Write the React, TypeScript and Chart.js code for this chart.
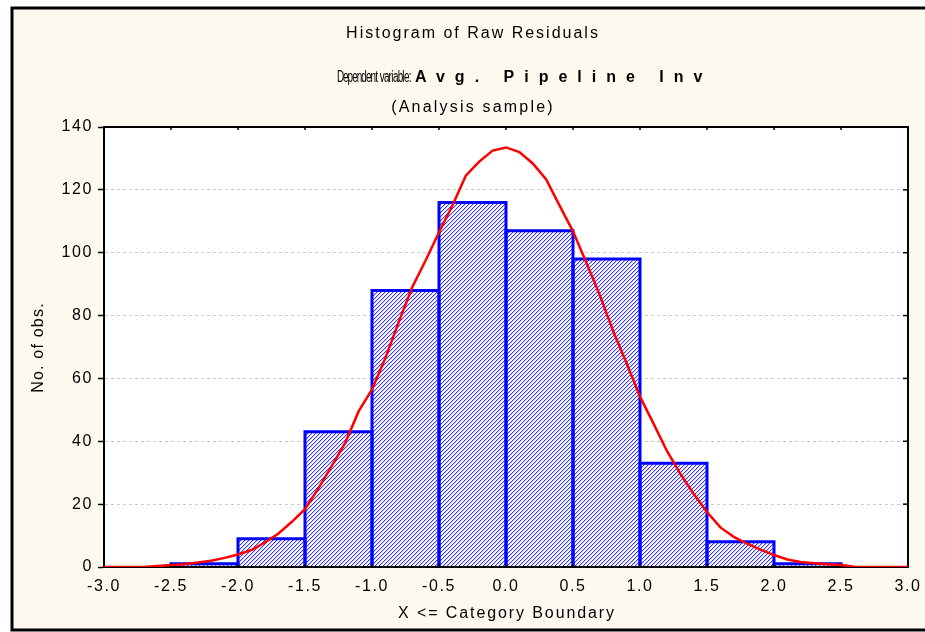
import React, { useEffect, useRef } from 'react';
import { Chart, registerables } from 'chart.js';

Chart.register(...registerables);

// ---- data ----
const binCenters = [-2.25, -1.75, -1.25, -0.75, -0.25, 0.25, 0.75, 1.25, 1.75, 2.25];
const binCounts = [1, 9, 43, 88, 116, 107, 98, 33, 8, 1];

const curveX = [
  -3.0, -2.9, -2.8, -2.7, -2.6, -2.5, -2.4, -2.3, -2.2, -2.1,
  -2.0, -1.9, -1.8, -1.7, -1.6, -1.5, -1.4, -1.3, -1.2, -1.1,
  -1.0, -0.9, -0.8, -0.7, -0.6, -0.5, -0.4, -0.3, -0.2, -0.1,
  0.0, 0.1, 0.2, 0.3, 0.4, 0.5, 0.6, 0.7, 0.8, 0.9,
  1.0, 1.1, 1.2, 1.3, 1.4, 1.5, 1.6, 1.7, 1.8, 1.9,
  2.0, 2.1, 2.2, 2.3, 2.4, 2.5, 2.6, 2.7, 2.8, 2.9, 3.0,
];
const curveY = [
  0, 0, 0, 0, 0.3, 0.6, 0.9, 1.4, 2.0, 2.9,
  4.0, 5.4, 7.8, 10.6, 14.3, 18.4, 25.0, 32.2, 39.5, 49.5,
  56.5, 66.5, 78.0, 89.0, 97.5, 106.5, 115.0, 124.5, 129.0, 132.5,
  133.5, 132.0, 128.4, 123.3, 115.0, 106.8, 96.8, 86.5, 75.0, 64.8,
  54.2, 45.7, 37.0, 29.7, 23.3, 17.5, 12.6, 9.6, 7.4, 5.5,
  3.8, 2.4, 1.6, 1.2, 0.9, 0.6, 0.1, 0, 0, 0, 0,
];

const xMin = -3;
const xMax = 3;
const xStep = 0.5;
const yMin = 0;
const yMax = 140;
const yStep = 20;

const titleText = 'Histogram of Raw Residuals';
const depLabel = 'Dependent variable:';
const depValue = 'Avg. Pipeline Inv';
const sampleText = '(Analysis sample)';
const xTitle = 'X <= Category Boundary';
const yTitle = 'No. of obs.';

// ---- styles ----
const FONT = '"Liberation Sans", Arial, sans-serif';
const CREAM = 'rgb(253,249,239)';

function makeHatch(): CanvasPattern | string {
  const c = document.createElement('canvas');
  c.width = 4;
  c.height = 4;
  const g = c.getContext('2d');
  if (!g) return '#a8a8f5';
  const img = g.createImageData(4, 4);
  for (let y = 0; y < 4; y++) {
    for (let x = 0; x < 4; x++) {
      const k = (x + y) % 4;
      const i = (y * 4 + x) * 4;
      let col = [255, 255, 255];
      if (k === 0) col = [50, 50, 255];
      else if (k === 1) col = [200, 200, 255];
      img.data[i] = col[0];
      img.data[i + 1] = col[1];
      img.data[i + 2] = col[2];
      img.data[i + 3] = 255;
    }
  }
  g.putImageData(img, 0, 0);
  const p = g.createPattern(c, 'repeat');
  return p || '#a8a8f5';
}

function drawText(
  ctx: CanvasRenderingContext2D,
  text: string,
  x: number,
  y: number,
  font: string,
  spacing: number,
  align: CanvasTextAlign,
) {
  ctx.save();
  ctx.font = font;
  (ctx as any).letterSpacing = spacing + 'px';
  ctx.textAlign = align;
  ctx.textBaseline = 'alphabetic';
  ctx.fillStyle = '#000';
  ctx.fillText(text, x, y);
  ctx.restore();
}

// condensed label: glyphs narrowed, advances squeezed to a target width
function drawCondensed(
  ctx: CanvasRenderingContext2D,
  text: string,
  x: number,
  y: number,
  font: string,
  targetWidth: number,
  glyphScale: number,
) {
  ctx.save();
  ctx.font = font;
  (ctx as any).letterSpacing = '0px';
  ctx.fillStyle = '#000';
  ctx.textAlign = 'left';
  ctx.textBaseline = 'alphabetic';
  const total = ctx.measureText(text).width;
  const k = targetWidth / total;
  let cx = x;
  for (const ch of text) {
    const adv = ctx.measureText(ch).width;
    ctx.save();
    ctx.translate(cx, y);
    ctx.scale(glyphScale, 1);
    ctx.fillText(ch, 0, 0);
    ctx.restore();
    cx += adv * k;
  }
  ctx.restore();
}

const decorPlugin = {
  id: 'decor',
  beforeUpdate(chart: any) {
    (chart.ctx as any).letterSpacing = '1.6px';
  },
  beforeDraw(chart: any) {
    const ctx: CanvasRenderingContext2D = chart.ctx;
    const { width, height } = chart;
    const a = chart.chartArea;
    ctx.save();
    (ctx as any).letterSpacing = '0px';
    ctx.fillStyle = '#ffffff';
    ctx.fillRect(0, 0, width, height);
    ctx.fillStyle = CREAM;
    ctx.fillRect(12, 8, width - 12, 622);
    ctx.fillStyle = '#ffffff';
    ctx.fillRect(a.left, a.top, a.right - a.left, a.bottom - a.top);
    ctx.strokeStyle = '#000';
    ctx.lineWidth = 3;
    ctx.beginPath();
    ctx.moveTo(width + 2, 8);
    ctx.lineTo(12, 8);
    ctx.lineTo(12, 630);
    ctx.lineTo(width + 2, 630);
    ctx.stroke();
    ctx.restore();
    (ctx as any).letterSpacing = '1.6px';
  },
  afterDatasetDraw(chart: any, args: any) {
    if (args.meta.type !== 'bar') return;
    const ctx: CanvasRenderingContext2D = chart.ctx;
    const a = chart.chartArea;
    ctx.save();
    ctx.strokeStyle = '#0000ff';
    ctx.lineWidth = 3;
    ctx.lineJoin = 'miter';
    args.meta.data.forEach((el: any) => {
      const p = el.getProps(['x', 'y', 'base', 'width'], true);
      const l = p.x - p.width / 2;
      const r = p.x + p.width / 2;
      ctx.beginPath();
      ctx.moveTo(l, p.base);
      ctx.lineTo(l, p.y);
      ctx.lineTo(r, p.y);
      ctx.lineTo(r, p.base);
      ctx.stroke();
    });
    // plot frame
    ctx.strokeStyle = '#000';
    ctx.lineWidth = 2;
    ctx.strokeRect(a.left, a.top, a.right - a.left, a.bottom - a.top);
    // inner tick marks: right side (y) and top/bottom (x)
    ctx.lineWidth = 1.5;
    const ys = chart.scales.y;
    ys.ticks.forEach((t: any) => {
      const py = ys.getPixelForValue(t.value);
      ctx.beginPath();
      ctx.moveTo(a.right, py);
      ctx.lineTo(a.right - 5, py);
      ctx.stroke();
    });
    const xs = chart.scales.x;
    xs.ticks.forEach((t: any) => {
      const px = xs.getPixelForValue(t.value);
      ctx.beginPath();
      ctx.moveTo(px, a.top);
      ctx.lineTo(px, a.top + 3);
      ctx.moveTo(px, a.bottom);
      ctx.lineTo(px, a.bottom - 3);
      ctx.stroke();
    });
    ctx.restore();
  },
  afterDraw(chart: any) {
    const ctx: CanvasRenderingContext2D = chart.ctx;
    drawText(ctx, titleText, 473, 37.5, `16px ${FONT}`, 2, 'center');
    drawText(ctx, sampleText, 473, 111.5, `16px ${FONT}`, 2.2, 'center');

    // "Dependent variable:" (condensed) + bold spaced name
    drawCondensed(ctx, depLabel, 337, 81.5, `16px ${FONT}`, 74, 0.62);
    drawText(ctx, depValue, 415, 81.5, `bold 16px ${FONT}`, 10, 'left');

    drawText(ctx, xTitle, 507, 618, `16px ${FONT}`, 1.9, 'center');

    ctx.save();
    ctx.translate(39, 347.5);
    ctx.rotate(-Math.PI / 2);
    ctx.font = `16px ${FONT}`;
    (ctx as any).letterSpacing = '1.2px';
    ctx.textAlign = 'center';
    ctx.textBaseline = 'middle';
    ctx.fillStyle = '#000';
    ctx.fillText(yTitle, 0, 0);
    ctx.restore();
    (ctx as any).letterSpacing = '1.6px';
  },
};

export default function App() {
  const ref = useRef<HTMLCanvasElement | null>(null);

  useEffect(() => {
    const canvas = ref.current;
    if (!canvas) return;
    const hatch = makeHatch();
    const chart = new Chart(canvas, {
      type: 'bar',
      data: {
        datasets: [
          {
            type: 'line',
            data: curveX.map((x, i) => ({ x, y: curveY[i] })),
            borderColor: '#ff0000',
            borderWidth: 2.5,
            pointRadius: 0,
            tension: 0,
            fill: false,
            order: 1,
          } as any,
          {
            type: 'bar',
            data: binCenters.map((x, i) => ({ x, y: binCounts[i] })),
            backgroundColor: hatch,
            borderWidth: 0,
            barPercentage: 1,
            categoryPercentage: 1,
            order: 2,
          } as any,
        ],
      },
      options: {
        responsive: false,
        animation: false,
        devicePixelRatio: 1,
        layout: { padding: { left: 0, right: 17, top: 127, bottom: 0 } },
        plugins: {
          legend: { display: false },
          tooltip: { enabled: false },
          title: { display: false },
        },
        scales: {
          x: {
            type: 'linear',
            min: xMin,
            max: xMax,
            offset: false,
            grid: { display: false, drawTicks: false, offset: false },
            border: { display: true, color: '#000', width: 2 },
            ticks: {
              stepSize: xStep,
              padding: 10,
              color: '#000',
              font: { family: FONT, size: 16 },
              maxRotation: 0,
              autoSkip: false,
              includeBounds: true,
              callback: (v: any) => Number(v).toFixed(1),
            },
            afterFit(s: any) {
              s.height = 65;
              s.paddingLeft = 0;
              s.paddingRight = 0;
            },
          },
          y: {
            type: 'linear',
            min: yMin,
            max: yMax,
            grid: {
              color: '#c8c8c8',
              lineWidth: 1,
              tickLength: 6,
              tickColor: '#000',
              tickWidth: 1.5,
              tickBorderDash: [],
            },
            border: { display: true, color: '#000', width: 2, dash: [3, 3] },
            ticks: {
              stepSize: yStep,
              padding: 5,
              color: '#000',
              font: { family: FONT, size: 16 },
            },
            afterFit(s: any) {
              s.width = 104;
              s.paddingTop = 0;
              s.paddingBottom = 0;
            },
          },
        } as any,
      },
      plugins: [decorPlugin as any],
    });
    return () => chart.destroy();
  }, []);

  return (
    <div style={{ position: 'fixed', left: 0, top: 0, width: 925, height: 632 }}>
      <canvas
        ref={ref}
        width={925}
        height={632}
        style={{ display: 'block', width: 925, height: 632 }}
      />
    </div>
  );
}
